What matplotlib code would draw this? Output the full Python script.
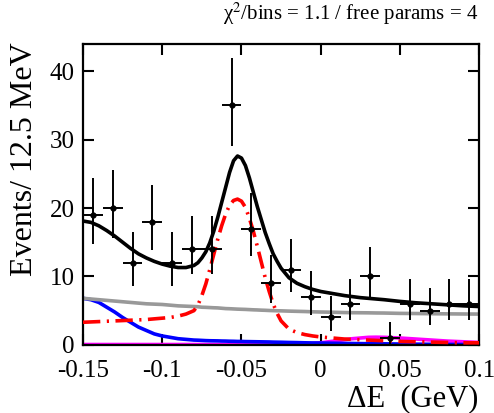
import matplotlib
matplotlib.use("Agg")
import matplotlib.pyplot as plt
import numpy as np

# data points (bin centres, counts, asymmetric poisson errors)
bin_centers = [-0.14375, -0.13125, -0.11875, -0.10625, -0.09375, -0.08125, -0.06875,
               -0.05625, -0.04375, -0.03125, -0.01875, -0.00625, 0.00625, 0.01875,
               0.03125, 0.04375, 0.05625, 0.06875, 0.08125, 0.09375]
counts = [19, 20, 12, 18, 12, 14, 14, 35, 17, 9, 11, 7, 4, 6, 10, 1, 6, 5, 6, 6]
err_lo = [4.33, 4.44, 3.41, 4.21, 3.41, 3.70, 3.70, 5.89, 4.08, 2.94, 3.27, 2.58,
          1.91, 2.38, 3.11, 0.83, 2.38, 2.16, 2.38, 2.38]
err_hi = [5.43, 5.55, 4.56, 5.32, 4.56, 4.83, 4.83, 6.97, 5.20, 4.11, 4.41, 3.77,
          3.16, 3.58, 4.26, 2.30, 3.58, 3.36, 3.58, 3.58]
half_bin = 0.00625

# fit curves
curve_x = [-0.15, -0.145, -0.14, -0.135, -0.13, -0.125, -0.12, -0.115, -0.11, -0.105,
           -0.10, -0.095, -0.09, -0.085, -0.08, -0.0775, -0.075, -0.0725, -0.07,
           -0.0675, -0.065, -0.0625, -0.06, -0.0575, -0.055, -0.0525, -0.05, -0.0475,
           -0.045, -0.0425, -0.04, -0.0375, -0.035, -0.0325, -0.03, -0.0275, -0.025,
           -0.02, -0.015, -0.01, -0.005, 0.0, 0.005, 0.01, 0.015, 0.02, 0.025, 0.03,
           0.035, 0.04, 0.05, 0.06, 0.07, 0.08, 0.09, 0.1]
total = [18.1, 17.9, 17.4, 16.7, 15.9, 15.0, 14.1, 13.3, 12.7, 12.2,
         11.8, 11.5, 11.3, 11.3, 11.6, 12.0, 12.7, 13.6, 14.9,
         16.6, 18.6, 20.8, 23.0, 25.2, 26.9, 27.6, 27.3, 26.2,
         24.4, 22.3, 20.2, 18.3, 16.4, 14.8, 13.3, 12.2, 11.2,
         9.8, 9.0, 8.5, 8.1, 7.8, 7.6, 7.4, 7.2, 7.05, 6.9, 6.8,
         6.7, 6.6, 6.35, 6.15, 6.0, 5.85, 5.7, 5.6]
signal = [3.3, 3.35, 3.4, 3.45, 3.5, 3.55, 3.6, 3.65, 3.7, 3.8,
          3.9, 4.0, 4.2, 4.5, 5.0, 5.8, 7.2, 8.9, 11.0,
          13.2, 15.4, 17.4, 19.1, 20.4, 21.1, 21.3, 21.0, 20.1,
          18.5, 16.6, 14.4, 12.1, 9.8, 7.8, 6.0, 4.6, 3.5,
          2.3, 1.8, 1.5, 1.3, 1.15, 1.05, 0.95, 0.85, 0.8, 0.75, 0.7,
          0.65, 0.6, 0.5, 0.45, 0.4, 0.35, 0.3, 0.3]
combinatoric = [6.8, 6.7, 6.6, 6.5, 6.4, 6.3, 6.2, 6.1, 6.0, 5.95,
                5.9, 5.8, 5.7, 5.65, 5.6, 5.57, 5.5, 5.48, 5.45,
                5.42, 5.4, 5.35, 5.3, 5.28, 5.25, 5.22, 5.2, 5.18,
                5.15, 5.12, 5.1, 5.07, 5.05, 5.02, 5.0, 4.98, 4.97,
                4.93, 4.9, 4.87, 4.83, 4.8, 4.78, 4.75, 4.72, 4.7, 4.69, 4.68,
                4.66, 4.65, 4.6, 4.58, 4.55, 4.53, 4.51, 4.5]
peaking_left = [6.8, 6.6, 6.2, 5.5, 4.8, 4.0, 3.3, 2.6, 2.1, 1.6,
                1.3, 1.1, 0.9, 0.8, 0.7, 0.68, 0.65, 0.62, 0.6,
                0.59, 0.58, 0.56, 0.55, 0.53, 0.52, 0.5, 0.5, 0.48,
                0.47, 0.46, 0.45, 0.44, 0.43, 0.42, 0.4, 0.39, 0.38,
                0.35, 0.33, 0.3, 0.28, 0.27, 0.25, 0.23, 0.21, 0.2, 0.18, 0.17,
                0.16, 0.15, 0.12, 0.1, 0.08, 0.06, 0.05, 0.04]
peaking_right = [0.05, 0.05, 0.05, 0.05, 0.05, 0.05, 0.05, 0.05, 0.05, 0.05,
                 0.05, 0.05, 0.05, 0.05, 0.05, 0.05, 0.05, 0.05, 0.05,
                 0.05, 0.05, 0.05, 0.05, 0.05, 0.05, 0.05, 0.05, 0.05,
                 0.05, 0.05, 0.05, 0.05, 0.05, 0.05, 0.05, 0.05, 0.05,
                 0.06, 0.08, 0.12, 0.2, 0.3, 0.45, 0.6, 0.75, 0.9, 1.0, 1.1,
                 1.12, 1.1, 1.0, 0.85, 0.7, 0.55, 0.45, 0.35]

plt.rcParams['font.family'] = ['Liberation Serif', 'DejaVu Serif']
plt.rcParams['mathtext.fontset'] = 'stix'

fig = plt.figure(figsize=(4.94, 4.13), dpi=100)
ax = fig.add_axes([0.168, 0.165, 0.802, 0.729])

ax.plot(curve_x, peaking_right, color='#ff00ff', lw=2.6, zorder=2)
ax.plot(curve_x, peaking_left, color='#0000ff', lw=2.6, zorder=2)
ax.plot(curve_x, combinatoric, color='#999999', lw=2.6, zorder=2)
ax.plot(curve_x, signal, color='#ff0000', lw=2.6, dashes=[4.8, 1.8, 0.6, 1.8], zorder=3)
ax.errorbar(bin_centers, counts, yerr=[err_lo, err_hi], xerr=half_bin,
            fmt='o', color='black', ms=3.5, elinewidth=1.4, capsize=0, zorder=4)
ax.plot(curve_x, total, color='black', lw=2.6, zorder=5)

ax.set_xlim(-0.15, 0.1)
ax.set_ylim(0, 44)
ax.set_xticks([-0.15, -0.1, -0.05, 0, 0.05, 0.1])
ax.set_xticklabels(['-0.15', '-0.1', '-0.05', '0', '0.05', '0.1'])
ax.set_yticks([0, 10, 20, 30, 40])
ax.tick_params(direction='in', length=8, width=1.5, top=True, right=True,
               labelsize=18, pad=6)
ax.tick_params(axis='x', pad=11)
for s in ax.spines.values():
    s.set_linewidth(1.6)

fig.text(0.968, 0.0, 'ΔE  (GeV)', ha='right', va='bottom', fontsize=22)
fig.text(0.05, 0.898, 'Events/ 12.5 MeV', rotation=90, ha='center', va='top', fontsize=23)
fig.text(0.968, 0.935, 'χ$^{2}$/bins = 1.1 / free params = 4', ha='right',
         va='bottom', fontsize=15)

fig.savefig('out.png', dpi=100)
